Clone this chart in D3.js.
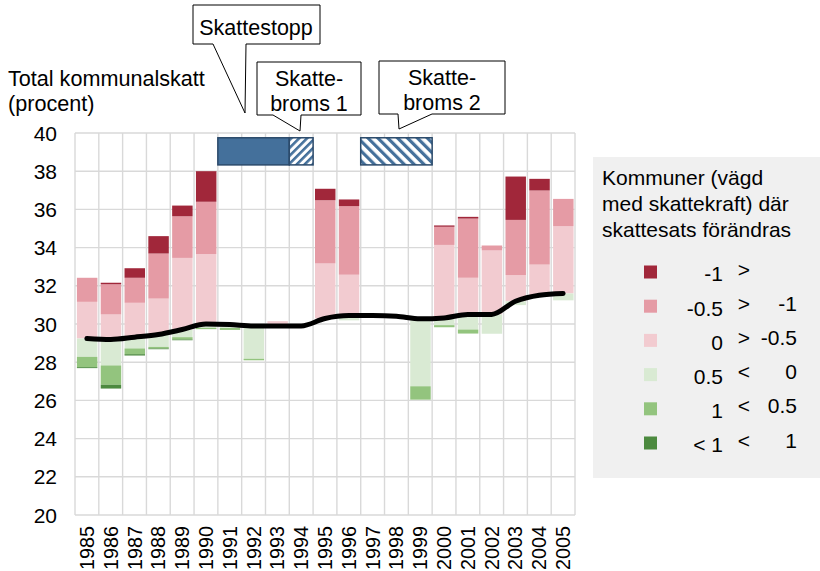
<!DOCTYPE html>
<html>
<head>
<meta charset="utf-8">
<script src="https://cdn.jsdelivr.net/npm/d3@7"></script>
<style>
  html, body { margin: 0; padding: 0; background: #ffffff; }
  svg { display: block; }
  text { font-family: "Liberation Sans", Arial, sans-serif; fill: #000; }
</style>
</head>
<body>
<svg id="chart" width="820" height="571"></svg>
<script>
// ---------- DATA ----------
const years = [1985,1986,1987,1988,1989,1990,1991,1992,1993,1994,1995,1996,1997,1998,1999,2000,2001,2002,2003,2004,2005];
// average total municipal tax (black line), also the base of the stacked bars
const avgTax = [29.24,29.19,29.31,29.45,29.71,30.00,29.97,29.89,29.90,29.90,30.29,30.44,30.44,30.40,30.27,30.32,30.50,30.50,31.19,31.51,31.60];
// segment heights (percentage units) stacked upward from the line
const lightPink = [1.92,1.31,1.80,1.88,3.75,3.66,0.00,0.00,0.25,0.00,2.88,2.14,0.00,0.00,0.00,3.82,1.92,3.35,1.37,1.60,3.52];
const midPink   = [1.26,1.58,1.31,2.36,2.18,2.74,0.00,0.00,0.00,0.00,3.31,3.59,0.00,0.00,0.00,0.95,3.10,0.26,2.89,3.88,1.43];
const darkRed   = [0.00,0.08,0.50,0.91,0.56,1.60,0.00,0.00,0.00,0.00,0.60,0.35,0.00,0.00,0.00,0.07,0.09,0.00,2.27,0.61,0.00];
// segment heights stacked downward from the line
const lightGreen = [0.96,1.36,0.59,0.65,0.40,0.20,0.18,1.71,0.00,0.00,0.00,0.25,0.00,0.00,3.53,0.38,0.79,1.01,0.20,0.00,0.36];
const midGreen   = [0.54,1.01,0.30,0.08,0.12,0.07,0.10,0.08,0.00,0.00,0.00,0.00,0.00,0.00,0.70,0.11,0.21,0.00,0.00,0.00,0.00];
const darkGreen  = [0.05,0.20,0.07,0.04,0.04,0.00,0.00,0.00,0.00,0.00,0.00,0.00,0.00,0.00,0.00,0.00,0.00,0.00,0.00,0.00,0.00];

const yTicks = [20,22,24,26,28,30,32,34,36,38,40];

// tax-policy periods shown as blue bars above the plot
const periodStart = [1991, 1994, 1997];
const periodEnd   = [1993, 1994, 1999];
const periodStyle = ["solid", "hatchUp", "hatchDown"];

const callouts = [
  { lines: ["Skattestopp"] },
  { lines: ["Skatte-", "broms 1"] },
  { lines: ["Skatte-", "broms 2"] }
];

const legendTitle = ["Kommuner (vägd", "med skattekraft) där", "skattesats förändras"];
const legendA = ["-1", "-0.5", "0", "0.5", "1", "< 1"];
const legendOp = [">", ">", ">", "<", "<", "<"];
const legendB = ["", "-1", "-0.5", "0", "0.5", "1"];

// ---------- STYLE ----------
const colors = {
  darkRed: "#a1273a", midPink: "#e59ba5", lightPink: "#f2cbd0",
  lightGreen: "#d9ead3", midGreen: "#93c47e", darkGreen: "#4c8a3f"
};
const legendColors = [colors.darkRed, colors.midPink, colors.lightPink, colors.lightGreen, colors.midGreen, colors.darkGreen];
const blue = "#44709b", blueEdge = "#2b4a6b";
const gridColor = "#d9d9d9";

const svg = d3.select("#chart");
const x = d3.scaleBand().domain(years).range([75, 575]).padding(0);
const y = d3.scaleLinear().domain([20, 40]).range([515, 133]);
const bw = x.bandwidth();
const barX = d => x(d) + bw * 0.08;
const barW = bw * 0.86;

// patterns
const defs = svg.append("defs");
function hatch(id, angle, period, stripe) {
  const p = defs.append("pattern").attr("id", id)
    .attr("patternUnits", "userSpaceOnUse")
    .attr("width", period).attr("height", period)
    .attr("patternTransform", `rotate(${angle})`);
  p.append("rect").attr("width", period).attr("height", period).attr("fill", "#fff");
  p.append("rect").attr("width", stripe).attr("height", period).attr("fill", blue);
}
hatch("hatchUp", 45, 5.6, 2.6);
hatch("hatchDown", -45, 7.0, 3.2);

// grid
const grid = svg.append("g");
grid.selectAll("line.h").data(yTicks).join("line")
  .attr("x1", 75).attr("x2", 575)
  .attr("y1", d => y(d)).attr("y2", d => y(d))
  .attr("stroke", gridColor).attr("stroke-width", 1.4);
const vx = years.map(d => x(d)).concat([575]);
grid.selectAll("line.v").data(vx).join("line")
  .attr("x1", d => d).attr("x2", d => d)
  .attr("y1", y(40)).attr("y2", y(20))
  .attr("stroke", gridColor).attr("stroke-width", 1.4);

// y-axis labels
svg.append("g").selectAll("text").data(yTicks).join("text")
  .attr("x", 57).attr("y", d => y(d)).attr("dy", "0.36em")
  .attr("text-anchor", "end").attr("font-size", 21)
  .text(d => d);

// x-axis labels
svg.append("g").selectAll("text").data(years).join("text")
  .attr("transform", d => `translate(${x(d) + bw / 2 + 7},526) rotate(-90)`)
  .attr("text-anchor", "end").attr("font-size", 19.8)
  .text(d => d);

// axis title
svg.append("text").attr("x", 8).attr("y", 86).attr("font-size", 21.6).text("Total kommunalskatt");
svg.append("text").attr("x", 8).attr("y", 111).attr("font-size", 21.6).text("(procent)");

// stacked bars
const segs = [];
years.forEach((yr, i) => {
  let base = avgTax[i];
  [[lightPink, colors.lightPink], [midPink, colors.midPink], [darkRed, colors.darkRed]].forEach(([arr, c]) => {
    const v = arr[i];
    if (v > 0) { segs.push({ yr, lo: base, hi: base + v, c }); base += v; }
  });
  base = avgTax[i];
  [[lightGreen, colors.lightGreen], [midGreen, colors.midGreen], [darkGreen, colors.darkGreen]].forEach(([arr, c]) => {
    const v = arr[i];
    if (v > 0) { segs.push({ yr, lo: base - v, hi: base, c }); base -= v; }
  });
});
svg.append("g").selectAll("rect").data(segs).join("rect")
  .attr("x", d => barX(d.yr)).attr("width", barW)
  .attr("y", d => y(d.hi)).attr("height", d => y(d.lo) - y(d.hi))
  .attr("fill", d => d.c);

// average line
const line = d3.line()
  .x((d, i) => x(years[i]) + bw / 2)
  .y(d => y(d))
  .curve(d3.curveMonotoneX);
svg.append("path").datum(avgTax).attr("d", line)
  .attr("fill", "none").attr("stroke", "#000").attr("stroke-width", 5)
  .attr("stroke-linecap", "round").attr("stroke-linejoin", "round");

// period bars
const pTop = y(39.75), pBot = y(38.33);
periodStart.forEach((s, i) => {
  const x0 = x(s), x1 = x(periodEnd[i]) + bw;
  svg.append("rect").attr("x", x0).attr("y", pTop).attr("width", x1 - x0).attr("height", pBot - pTop)
    .attr("fill", periodStyle[i] === "solid" ? blue : `url(#${periodStyle[i]})`)
    .attr("stroke", blueEdge).attr("stroke-width", 1.5);
});

// callouts
const callGeom = [
  { l: 193, t: 5, r: 320, b: 44, p1: 213, p2: 246, tx: 245, ty: 113, cx: 256, ly: [35] },
  { l: 257, t: 62, r: 361, b: 115, p1: 273, p2: 301, tx: 300, ty: 131, cx: 309, ly: [86, 111] },
  { l: 379, t: 61, r: 505, b: 114, p1: 398, p2: 432, tx: 399, ty: 129, cx: 442, ly: [85, 110] }
];
callouts.forEach((c, i) => {
  const g = callGeom[i];
  const path = `M${g.l},${g.t}H${g.r}V${g.b}H${g.p2}L${g.tx},${g.ty}L${g.p1},${g.b}H${g.l}Z`;
  svg.append("path").attr("d", path).attr("fill", "#fff").attr("stroke", "#000").attr("stroke-width", 1);
  c.lines.forEach((t, j) => {
    svg.append("text").attr("x", g.cx).attr("y", g.ly[j]).attr("text-anchor", "middle")
      .attr("font-size", 21.5).text(t);
  });
});

// legend
const lg = svg.append("g");
lg.append("rect").attr("x", 593).attr("y", 157).attr("width", 227).attr("height", 321).attr("fill", "#f0f0f0");
legendTitle.forEach((t, i) => {
  lg.append("text").attr("x", 602).attr("y", 185 + i * 26).attr("font-size", 21).text(t);
});
legendA.forEach((t, i) => {
  const cy = 272 + i * 34.2;
  lg.append("rect").attr("x", 644).attr("y", cy - 6.5).attr("width", 13).attr("height", 13).attr("fill", legendColors[i]);
  lg.append("text").attr("x", 723).attr("y", cy).attr("dy", "0.45em").attr("text-anchor", "end").attr("font-size", 21).text(t);
  lg.append("text").attr("x", 744).attr("y", cy - 3).attr("dy", "0.36em").attr("text-anchor", "middle").attr("font-size", 21).text(legendOp[i]);
  lg.append("text").attr("x", 797).attr("y", cy - 3).attr("dy", "0.36em").attr("text-anchor", "end").attr("font-size", 21).text(legendB[i]);
});
</script>
</body>
</html>
